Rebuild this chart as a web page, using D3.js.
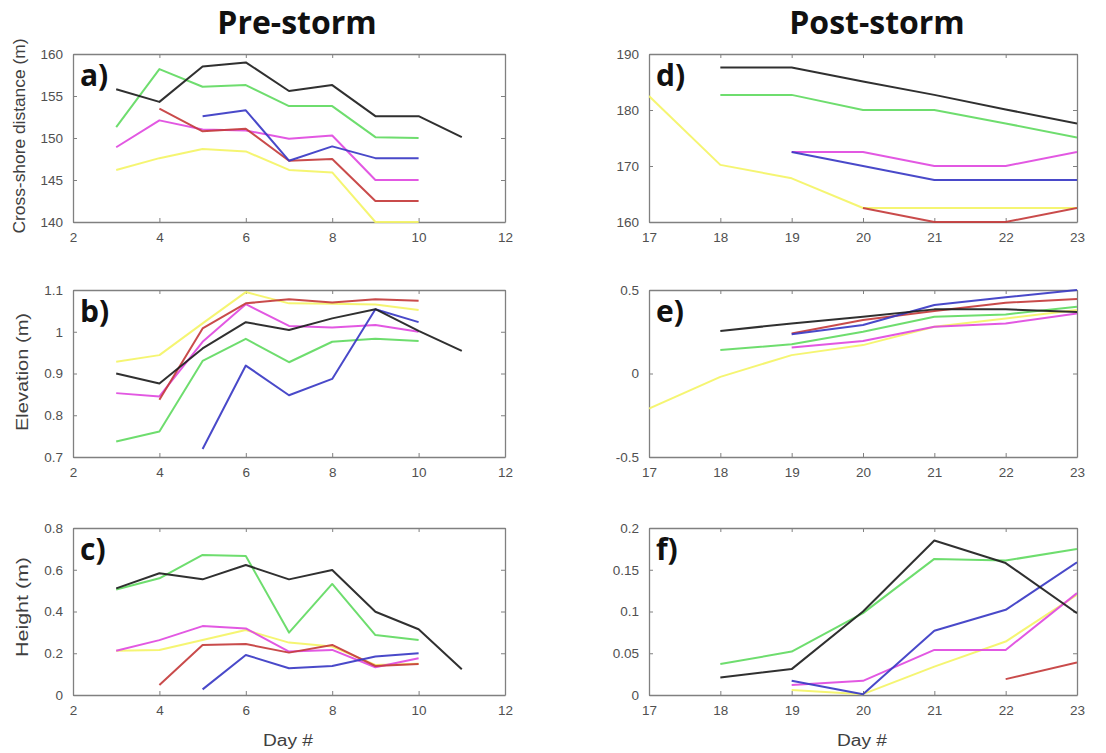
<!DOCTYPE html>
<html>
<head>
<meta charset="utf-8">
<script src="https://cdn.jsdelivr.net/npm/d3@7"></script>
<style>
  body { margin: 0; background: #fff; }
  svg { display: block; }
  .tick-label { font-family: "Liberation Sans", Arial, sans-serif; font-size: 13.5px; fill: #505050; }
  .ax-label { font-family: "Liberation Sans", Arial, sans-serif; font-size: 16px; fill: #404040; }
  .title { font-family: "Open Sans", sans-serif; font-weight: 700; font-size: 32px; fill: #111; }
  .tag { font-family: "Open Sans", sans-serif; font-weight: 700; font-size: 30px; fill: #111; }
</style>
</head>
<body>
<div id="chart"></div>
<script>
// Beach profile metrics, pre- and post-storm, one line per transect (colour).
const preDays  = [3, 4, 5, 6, 7, 8, 9, 10, 11];
const postDays = [17, 18, 19, 20, 21, 22, 23];
const preTicks  = [2, 4, 6, 8, 10, 12];
const postTicks = [17, 18, 19, 20, 21, 22, 23];

const lineColors = {
  black: "#1e1e1e", green: "#62da62", magenta: "#e04ae0",
  red: "#c43c3c", blue: "#3a3ac4", yellow: "#f4f466"
};
const drawOrder = ["yellow", "magenta", "green", "red", "blue", "black"];

// a) cross-shore distance (m), pre-storm
const distPre = {
  black:   [155.8, 154.3, 158.5, 159.0, 155.6, 156.3, 152.6, 152.6, 150.1],
  green:   [151.3, 158.2, 156.1, 156.3, 153.8, 153.8, 150.1, 150.0, null],
  magenta: [148.9, 152.1, 151.0, 150.9, 149.9, 150.3, 145.0, 145.0, null],
  red:     [null, 153.5, 150.8, 151.1, 147.3, 147.5, 142.5, 142.5, null],
  blue:    [null, null, 152.6, 153.3, 147.3, 149.0, 147.6, 147.6, null],
  yellow:  [146.2, 147.6, 148.7, 148.4, 146.2, 145.9, 140.0, 140.0, null]
};
// b) elevation (m), pre-storm
const elevPre = {
  black:   [0.900, 0.876, 0.960, 1.023, 1.004, 1.032, 1.054, 1.002, 0.954],
  green:   [0.737, 0.761, 0.930, 0.983, 0.927, 0.976, 0.983, 0.978, null],
  magenta: [0.853, 0.845, 0.976, 1.066, 1.014, 1.010, 1.016, 1.000, null],
  red:     [null, 0.837, 1.008, 1.068, 1.078, 1.070, 1.078, 1.074, null],
  blue:    [null, null, 0.719, 0.919, 0.848, 0.887, 1.054, 1.023, null],
  yellow:  [0.928, 0.944, 1.020, 1.095, 1.068, 1.067, 1.065, 1.052, null]
};
// c) height (m), pre-storm
const heightPre = {
  black:   [0.511, 0.583, 0.554, 0.623, 0.554, 0.599, 0.399, 0.315, 0.123],
  green:   [0.505, 0.559, 0.671, 0.666, 0.299, 0.532, 0.287, 0.263, null],
  magenta: [0.212, 0.263, 0.330, 0.319, 0.208, 0.216, 0.133, 0.176, null],
  red:     [null, 0.048, 0.240, 0.244, 0.203, 0.240, 0.139, 0.149, null],
  blue:    [null, null, 0.027, 0.192, 0.128, 0.139, 0.184, 0.200, null],
  yellow:  [0.212, 0.216, 0.263, 0.311, 0.251, 0.232, 0.144, 0.150, null]
};
// d) cross-shore distance (m), post-storm
const distPost = {
  black:   [null, 187.6, 187.6, 185.1, 182.7, 180.1, 177.6],
  green:   [null, 182.7, 182.7, 180.0, 180.0, 177.6, 175.1],
  magenta: [null, null, 172.5, 172.5, 170.0, 170.0, 172.5],
  red:     [null, null, null, 162.5, 160.0, 160.0, 162.5],
  blue:    [null, null, 172.5, 170.0, 167.5, 167.5, 167.5],
  yellow:  [182.5, 170.2, 167.8, 162.5, 162.5, 162.5, 162.5]
};
// e) elevation (m), post-storm
const elevPost = {
  black:   [null, 0.254, 0.300, 0.340, 0.384, 0.384, 0.368],
  green:   [null, 0.141, 0.175, 0.250, 0.340, 0.354, 0.400],
  magenta: [null, null, 0.155, 0.195, 0.280, 0.300, 0.360],
  red:     [null, null, 0.240, 0.320, 0.374, 0.424, 0.446],
  blue:    [null, null, 0.235, 0.290, 0.410, 0.456, 0.500],
  yellow:  [-0.210, -0.020, 0.110, 0.170, 0.280, 0.330, 0.380]
};
// f) height (m), post-storm
const heightPost = {
  black:   [null, 0.021, 0.031, 0.100, 0.185, 0.158, 0.098],
  green:   [null, 0.037, 0.052, 0.098, 0.163, 0.161, 0.175],
  magenta: [null, null, 0.012, 0.017, 0.054, 0.054, 0.122],
  red:     [null, null, null, null, null, 0.019, 0.039],
  blue:    [null, null, 0.017, 0.001, 0.077, 0.102, 0.159],
  yellow:  [null, null, 0.006, 0.001, 0.034, 0.064, 0.120]
};

const panels = [
  { tag: "a)", days: preDays, data: distPre, xDom: [2, 12], xTicks: preTicks,
    yDom: [140, 160], yTicks: [140, 145, 150, 155, 160], col: 0, row: 0,
    yLabel: "Cross-shore distance (m)", yLabelLen: 195, yLabelX: 25, yLabelY: 136 },
  { tag: "b)", days: preDays, data: elevPre, xDom: [2, 12], xTicks: preTicks,
    yDom: [0.7, 1.1], yTicks: [0.7, 0.8, 0.9, 1, 1.1], col: 0, row: 1,
    yLabel: "Elevation (m)", yLabelLen: 118, yLabelX: 28, yLabelY: 372 },
  { tag: "c)", days: preDays, data: heightPre, xDom: [2, 12], xTicks: preTicks,
    yDom: [0, 0.8], yTicks: [0, 0.2, 0.4, 0.6, 0.8], col: 0, row: 2,
    yLabel: "Height (m)", yLabelLen: 100, yLabelX: 28, yLabelY: 607, xLabel: "Day #" },
  { tag: "d)", days: postDays, data: distPost, xDom: [17, 23], xTicks: postTicks,
    yDom: [160, 190], yTicks: [160, 170, 180, 190], col: 1, row: 0 },
  { tag: "e)", days: postDays, data: elevPost, xDom: [17, 23], xTicks: postTicks,
    yDom: [-0.5, 0.5], yTicks: [-0.5, 0, 0.5], col: 1, row: 1 },
  { tag: "f)", days: postDays, data: heightPost, xDom: [17, 23], xTicks: postTicks,
    yDom: [0, 0.2], yTicks: [0, 0.05, 0.1, 0.15, 0.2], col: 1, row: 2, xLabel: "Day #" }
];

const W = 1106, H = 753;
const colX = [[73, 505], [649, 1077]];
const rowY = [[54, 222], [290, 457], [528, 695]];
const fmt = v => String(+v.toFixed(4));

const svg = d3.select("#chart").append("svg").attr("width", W).attr("height", H);
svg.append("rect").attr("width", W).attr("height", H).attr("fill", "#fff");

svg.append("text").attr("class", "title").attr("x", 297).attr("y", 34)
  .attr("text-anchor", "middle").text("Pre-storm");
svg.append("text").attr("class", "title").attr("x", 877).attr("y", 34)
  .attr("text-anchor", "middle").text("Post-storm");

panels.forEach((p, i) => {
  const [x0, x1] = colX[p.col], [y0, y1] = rowY[p.row];
  const x = d3.scaleLinear().domain(p.xDom).range([x0, x1]);
  const y = d3.scaleLinear().domain(p.yDom).range([y1, y0]);
  const g = svg.append("g");

  const clipId = "clip" + i;
  svg.append("clipPath").attr("id", clipId)
    .append("rect").attr("x", x0).attr("y", y0 - 1).attr("width", x1 - x0).attr("height", y1 - y0 + 2);

  // MATLAB-style box: ticks inward on all four sides
  const tk = 4;
  g.append("g").attr("transform", `translate(0,${y1})`)
    .call(d3.axisBottom(x).tickValues(p.xTicks).tickSizeInner(-tk).tickSizeOuter(0).tickPadding(10).tickFormat(fmt));
  g.append("g").attr("transform", `translate(0,${y0})`)
    .call(d3.axisTop(x).tickValues(p.xTicks).tickSizeInner(-tk).tickSizeOuter(0).tickFormat(""));
  g.append("g").attr("transform", `translate(${x0},0)`)
    .call(d3.axisLeft(y).tickValues(p.yTicks).tickSizeInner(-tk).tickSizeOuter(0).tickPadding(10).tickFormat(fmt));
  g.append("g").attr("transform", `translate(${x1},0)`)
    .call(d3.axisRight(y).tickValues(p.yTicks).tickSizeInner(-tk).tickSizeOuter(0).tickFormat(""));
  g.selectAll(".domain").attr("stroke", "#808080").attr("stroke-width", 1.3);
  g.selectAll(".tick line").attr("stroke", "#808080");
  g.selectAll(".tick text").attr("class", "tick-label").attr("font-family", null).attr("font-size", null);

  // Lines
  const line = d3.line().x(d => x(d[0])).y(d => y(d[1]));
  const lg = svg.append("g").attr("clip-path", `url(#${clipId})`);
  drawOrder.forEach(key => {
    const pts = p.days.map((d, j) => [d, p.data[key][j]]).filter(d => d[1] != null);
    lg.append("path").attr("d", line(pts))
      .attr("fill", "none").attr("stroke", lineColors[key])
      .attr("stroke-width", 2).attr("stroke-linejoin", "round").attr("opacity", 0.92);
  });

  svg.append("text").attr("class", "tag").attr("x", x0 + 7).attr("y", y0 + 32).text(p.tag);

  if (p.yLabel) {
    svg.append("text").attr("class", "ax-label")
      .attr("transform", `translate(${p.yLabelX},${p.yLabelY}) rotate(-90)`)
      .attr("text-anchor", "middle")
      .attr("textLength", p.yLabelLen).attr("lengthAdjust", "spacingAndGlyphs")
      .text(p.yLabel);
  }
  if (p.xLabel) {
    svg.append("text").attr("class", "ax-label").attr("x", (x0 + x1) / 2 - 1).attr("y", y1 + 51)
      .attr("text-anchor", "middle")
      .attr("textLength", 50).attr("lengthAdjust", "spacingAndGlyphs")
      .text(p.xLabel);
  }
});
</script>
</body>
</html>
